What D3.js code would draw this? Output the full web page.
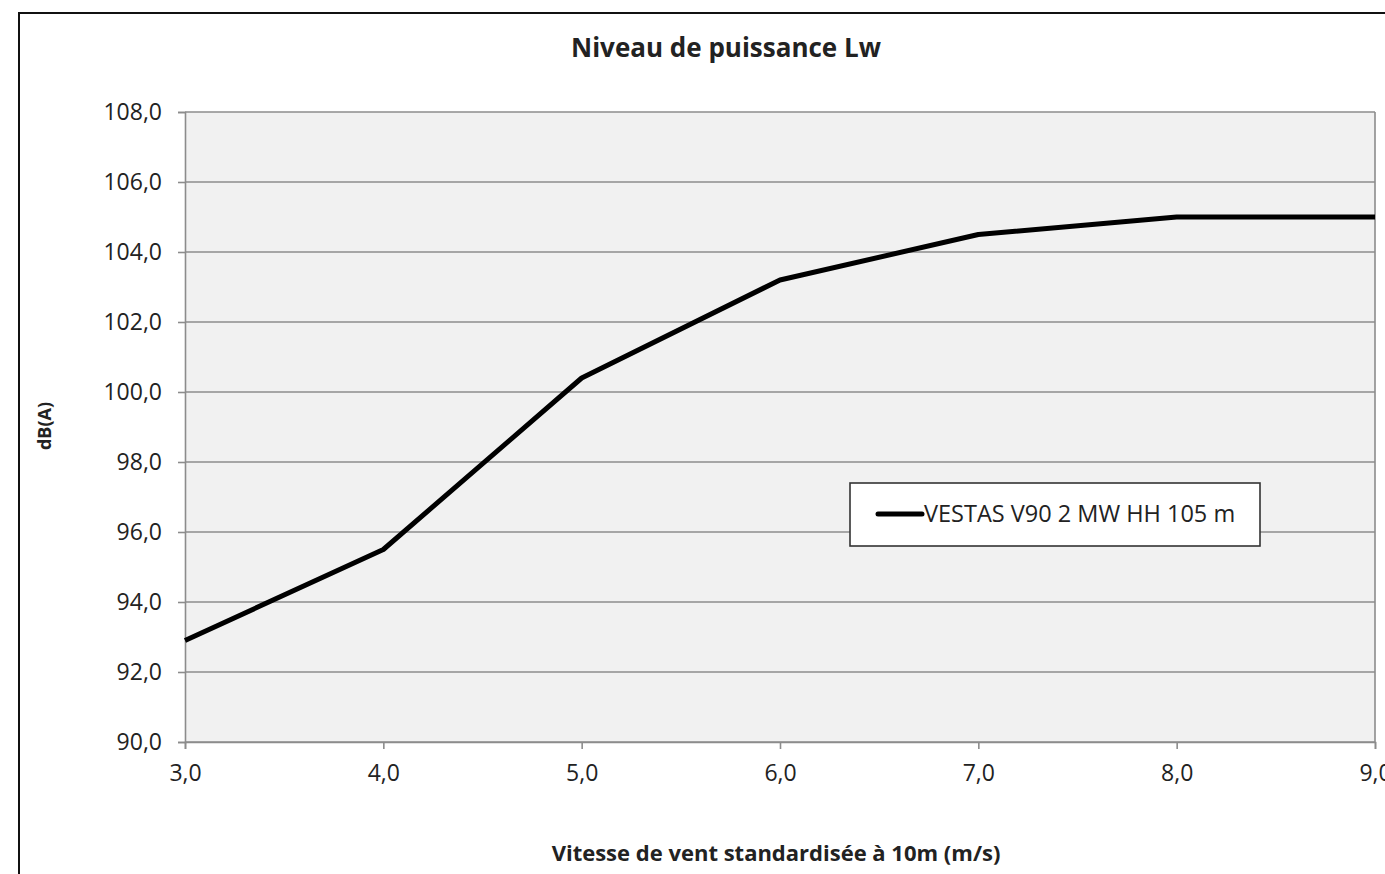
<!DOCTYPE html>
<html>
<head>
<meta charset="utf-8">
<script src="https://cdn.jsdelivr.net/npm/d3@7"></script>
<style>
  html, body { margin: 0; padding: 0; background: #fff; }
  svg { display: block; }
  text { font-family: "Open Sans", "Noto Sans", sans-serif; fill: #222; }
</style>
</head>
<body>
<svg id="chart" width="1385" height="874"></svg>
<script>
// Sound power level of the turbine versus standardised wind speed at 10 m
const windSpeeds = [3.0, 4.0, 5.0, 6.0, 7.0, 8.0, 9.0];
const powerLevels = [92.9, 95.5, 100.4, 103.2, 104.5, 105.0, 105.0];
const seriesName = "VESTAS V90 2 MW HH 105 m";
const xTicks = [3, 4, 5, 6, 7, 8, 9];
const yTicks = [90, 92, 94, 96, 98, 100, 102, 104, 106, 108];

const svg = d3.select("#chart");
const fmt = v => d3.format(".1f")(v).replace(".", ",");

const margin = { left: 185, right: 10, top: 112, bottom: 132 };
const W = 1385, H = 874;

const x = d3.scaleLinear().domain([3, 9]).range([margin.left, W - margin.right]);
const y = d3.scaleLinear().domain([90, 108]).range([H - margin.bottom, margin.top]);

// outer frame
svg.append("rect")
  .attr("x", 19).attr("y", 13)
  .attr("width", 1400).attr("height", 900)
  .attr("fill", "#fff").attr("stroke", "#111").attr("stroke-width", 2);

// plot area background
svg.append("rect")
  .attr("x", x(3)).attr("y", y(108))
  .attr("width", x(9) - x(3)).attr("height", y(90) - y(108))
  .attr("fill", "#f1f1f1");

// horizontal gridlines
svg.append("g")
  .selectAll("line")
  .data(yTicks)
  .join("line")
  .attr("x1", x(3)).attr("x2", x(9))
  .attr("y1", d => y(d)).attr("y2", d => y(d))
  .attr("stroke", "#8c8c8c").attr("stroke-width", 1.6);

// right border of the plot area
svg.append("line")
  .attr("x1", x(9)).attr("x2", x(9))
  .attr("y1", y(108)).attr("y2", y(90))
  .attr("stroke", "#8c8c8c").attr("stroke-width", 1.6);

// y axis
const yAxis = svg.append("g")
  .attr("transform", `translate(${x(3)},0)`)
  .call(d3.axisLeft(y).tickValues(yTicks).tickFormat(fmt).tickSize(7).tickPadding(16));
yAxis.select(".domain").attr("stroke", "#8c8c8c").attr("stroke-width", 1.6);
yAxis.selectAll(".tick line").attr("stroke", "#8c8c8c").attr("stroke-width", 1.6);
yAxis.selectAll(".tick text")
  .attr("font-size", 23).attr("fill", "#333")
  .attr("font-family", "'Open Sans', sans-serif");

// x axis
const xAxis = svg.append("g")
  .attr("transform", `translate(0,${y(90)})`)
  .call(d3.axisBottom(x).tickValues(xTicks).tickFormat(fmt).tickSize(7).tickPadding(16));
xAxis.select(".domain").attr("stroke", "#8c8c8c").attr("stroke-width", 1.6);
xAxis.selectAll(".tick line").attr("stroke", "#8c8c8c").attr("stroke-width", 1.6);
xAxis.selectAll(".tick text")
  .attr("font-size", 23).attr("fill", "#333")
  .attr("font-family", "'Open Sans', sans-serif");

// data line
const line = d3.line().x((d, i) => x(windSpeeds[i])).y(d => y(d));
svg.append("path")
  .datum(powerLevels)
  .attr("d", line)
  .attr("fill", "none")
  .attr("stroke", "#000")
  .attr("stroke-width", 5)
  .attr("stroke-linejoin", "round");

// title
svg.append("text")
  .attr("x", 726).attr("y", 57)
  .attr("text-anchor", "middle")
  .attr("font-size", 26).attr("font-weight", "bold").attr("fill", "#111")
  .text("Niveau de puissance Lw");

// axis titles
svg.append("text")
  .attr("x", 776).attr("y", 861)
  .attr("text-anchor", "middle")
  .attr("font-size", 22).attr("font-weight", "bold").attr("fill", "#111")
  .text("Vitesse de vent  standardisée à 10m (m/s)");

svg.append("text")
  .attr("transform", "translate(51,426) rotate(-90)")
  .attr("text-anchor", "middle")
  .attr("font-size", 18).attr("font-weight", "bold").attr("fill", "#111")
  .text("dB(A)");

// legend
const lg = svg.append("g").attr("transform", "translate(850,483)");
lg.append("rect")
  .attr("width", 410).attr("height", 63)
  .attr("fill", "#fff").attr("stroke", "#333").attr("stroke-width", 1.6);
lg.append("line")
  .attr("x1", 28).attr("x2", 72).attr("y1", 31).attr("y2", 31)
  .attr("stroke", "#000").attr("stroke-width", 5).attr("stroke-linecap", "round");
lg.append("text")
  .attr("x", 74).attr("y", 39)
  .attr("font-size", 23.5).attr("fill", "#222")
  .text(seriesName);
</script>
</body>
</html>
